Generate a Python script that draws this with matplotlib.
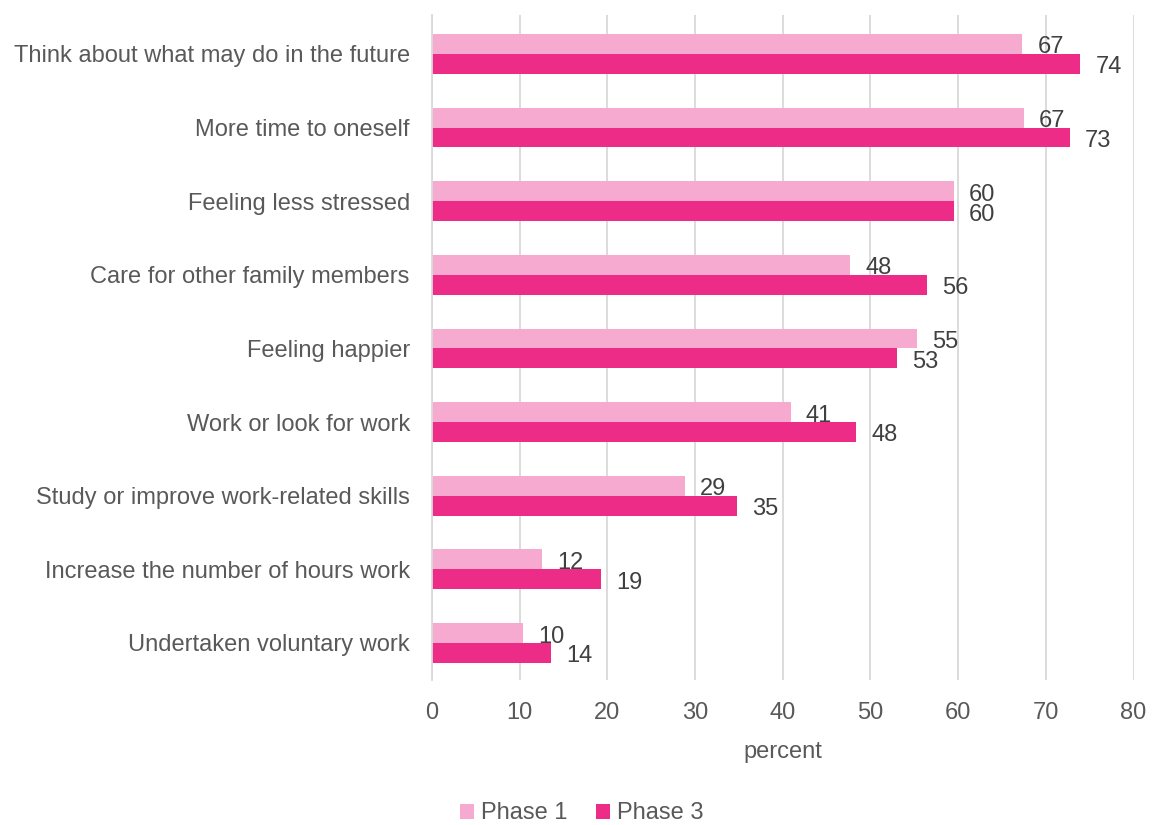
import matplotlib.pyplot as plt
import numpy as np

categories = ['Think about what may do in the future', 'More time to oneself',
              'Feeling less stressed', 'Care for other family members',
              'Feeling happier', 'Work or look for work',
              'Study or improve work-related skills',
              'Increase the number of hours work', 'Undertaken voluntary work']
phase1 = [67.3, 67.5, 59.5, 47.7, 55.3, 40.9, 28.8, 12.5, 10.4]
phase3 = [73.9, 72.7, 59.5, 56.4, 53.0, 48.4, 34.8, 19.3, 13.6]
labels1 = ['67', '67', '60', '48', '55', '41', '29', '12', '10']
labels3 = ['74', '73', '60', '56', '53', '48', '35', '19', '14']
xticks = [0, 10, 20, 30, 40, 50, 60, 70, 80]

c1 = '#F7AACF'
c3 = '#EC2C87'
txt = '#595959'

plt.rcParams['font.family'] = ['Liberation Sans', 'DejaVu Sans']

fig = plt.figure(figsize=(11.52, 8.25), dpi=100)
ax = fig.add_axes([0.375, 0.176, 0.609, 0.806])

y = np.arange(len(categories))[::-1]
h = 0.27
b1 = ax.barh(y + h / 2, phase1, height=h, color=c1, label='Phase 1', zorder=2)
b3 = ax.barh(y - h / 2, phase3, height=h, color=c3, label='Phase 3', zorder=2)

for bars, labs in [(b1, labels1), (b3, labels3)]:
    for bar, lab in zip(bars, labs):
        ax.annotate(lab, (bar.get_width(), bar.get_y() + bar.get_height() / 2),
                    xytext=(11, -2.5), textcoords='offset points', va='center',
                    ha='left', fontsize=17, color='#404040')

ax.set_xlim(0, 80)
ax.set_ylim(-0.5, 8.53)
ax.set_xticks(xticks)
ax.set_yticks(y)
ax.set_yticklabels(categories)
ax.tick_params(axis='y', length=0, pad=16, labelsize=17, labelcolor=txt)
ax.tick_params(axis='x', length=0, pad=16, labelsize=17, labelcolor=txt)
ax.grid(axis='x', color='#D9D9D9', linewidth=1.3, zorder=0)
for s in ['top', 'right', 'bottom']:
    ax.spines[s].set_visible(False)
ax.spines['left'].set_color('#D9D9D9')
ax.spines['left'].set_linewidth(1.3)

ax.set_xlabel('percent', fontsize=17, color=txt, labelpad=12)

fig.legend(handles=[b1, b3], loc='lower center', bbox_to_anchor=(0.505, -0.025),
           ncol=2, frameon=False, handlelength=0.6, handleheight=0.6,
           handletextpad=0.3, columnspacing=1.2,
           prop={'size': 17}, labelcolor=txt)

fig.savefig('out.png', dpi=100)
